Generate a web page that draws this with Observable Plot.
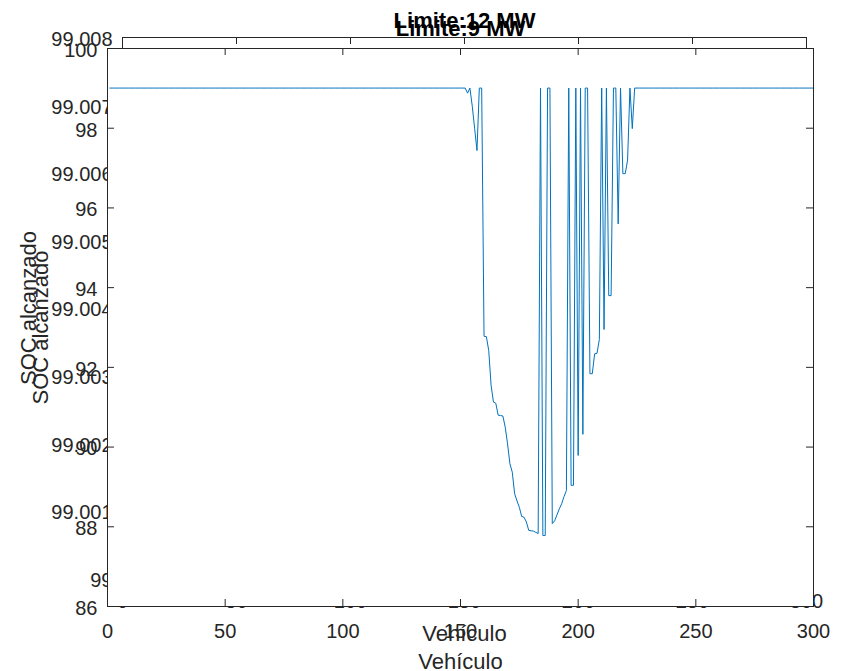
<!DOCTYPE html>
<html>
<head>
<meta charset="utf-8">
<script src="https://cdn.jsdelivr.net/npm/d3@7"></script>
<script src="https://cdn.jsdelivr.net/npm/@observablehq/plot@0.6"></script>
<style>
  html, body { margin: 0; padding: 0; background: #ffffff; }
  #wrap { position: relative; width: 843px; height: 671px; background: #ffffff; }
  #wrap svg { position: absolute; left: 0; top: 0; }
</style>
</head>
<body>
<div id="wrap"></div>
<script>
// ---- data ----
const vehicleCount = 300;
const plateauSOC = 99.0073;           // SOC of the vehicles outside the dip
const dipVehicles = [152,153,154,155,156,157,158,159,160,161,162,163,164,165,166,167,168,169,170,171,172,173,174,175,176,177,178,179,180,181,182,183,184,185,186,187,188,189,190,191,192,193,194,195,196,197,198,199,200,201,202,203,204,205,206,207,208,209,210,211,212,213,214,215,216,217,218,219,220,221,222,223,224];
const dipSOC9 = [99.0073,98.88,99.0073,98.55,98.00,97.44,99.0073,99.0073,92.78,92.77,92.42,91.55,91.13,91.10,90.80,90.79,90.78,90.50,90.08,89.58,89.37,88.83,88.65,88.49,88.26,88.24,88.12,87.91,87.90,87.89,87.86,87.83,99.0073,87.78,87.78,99.0073,99.0073,88.08,88.15,88.30,88.45,88.58,88.76,88.91,99.0073,89.04,89.04,99.0073,89.79,99.0073,90.32,99.0073,99.0073,91.84,91.84,92.34,92.35,92.70,99.0073,92.95,99.0073,93.80,93.80,99.0073,99.0073,95.60,99.0073,96.86,96.86,97.20,99.0073,97.99,99.0073];

const titleBack = "Limite:12 MW";
const titleFront = "Limite:9 MW";
const xLabel = "Vehículo";
const yLabel = "SOC alcanzado";

const xTicks = [0, 50, 100, 150, 200, 250, 300];
const frontYTicks = [86, 88, 90, 92, 94, 96, 98, 100];
const backYTicks = [99, 99.001, 99.002, 99.003, 99.004, 99.005, 99.006, 99.007, 99.008];
const backYTickLabels = ["99", "99.001", "99.002", "99.003", "99.004", "99.005", "99.006", "99.007", "99.008"];

// ---- build series ----
const seriesFront = [];
const seriesBack = [];
for (let v = 1; v <= vehicleCount; v++) {
  const k = dipVehicles.indexOf(v);
  seriesFront.push({v, soc: k >= 0 ? dipSOC9[k] : plateauSOC});
  seriesBack.push({v, soc: plateauSOC});
}

const ink = "#262626";
const lineColor = "#0072BD";
const W = 843, H = 671;
const font = "'Liberation Sans', Arial, Helvetica, sans-serif";
const tickLen = 7;

function axesPlot({m, yTicks, yFmt, data, title, titleDy, frontFill, xPad}) {
  const fw = W - m.left - m.right;
  const fh = H - m.top - m.bottom;
  const marks = [];
  if (frontFill) marks.push(Plot.frame({fill: "white", stroke: null}));
  marks.push(
    Plot.lineY(data, {x: "v", y: "soc", stroke: lineColor, strokeWidth: 1}),
    // inward ticks, all four sides
    Plot.tickX(xTicks, {x: d => d, stroke: ink, insetTop: fh - tickLen}),
    Plot.tickX(xTicks, {x: d => d, stroke: ink, insetBottom: fh - tickLen}),
    Plot.tickY(yTicks, {y: d => d, stroke: ink, insetRight: fw - tickLen}),
    Plot.tickY(yTicks, {y: d => d, stroke: ink, insetLeft: fw - tickLen}),
    Plot.frame({stroke: ink, strokeWidth: 1}),
    Plot.axisX({anchor: "bottom", ticks: xTicks, tickSize: 0, tickPadding: xPad, label: null, fill: ink}),
    Plot.axisY({anchor: "left", ticks: yTicks, tickSize: 0, tickPadding: 10, label: null, fill: ink, tickFormat: yFmt, dy: 2}),
    Plot.text([title], {text: d => d, frameAnchor: "top", lineAnchor: "bottom", dy: titleDy, fontSize: 22, fontWeight: "bold", fill: "#000"}),
    Plot.text([xLabel], {text: d => d, frameAnchor: "bottom", lineAnchor: "bottom", dy: 62, fontSize: 22, fill: ink}),
  );
  return {marks, fw, fh};
}

// back axes (Limite 12 MW)
const mB = {left: 122, right: 37, top: 37, bottom: 93};
const back = axesPlot({m: mB, yTicks: backYTicks,
  yFmt: (d, i) => backYTickLabels[i], data: seriesBack, title: titleBack, titleDy: -10, frontFill: false, xPad: 15});
back.marks.push(Plot.text([yLabel], {text: d => d, frameAnchor: "left", rotate: -90, textAnchor: "middle", lineAnchor: "middle", dx: -94, fontSize: 22, fill: ink}));
const svgBack = Plot.plot({
  width: W, height: H,
  marginLeft: mB.left, marginRight: mB.right, marginTop: mB.top, marginBottom: mB.bottom,
  x: {domain: [0, 300]}, y: {domain: [99, 99.008]},
  style: {fontFamily: font, fontSize: "20px", background: "transparent", color: ink, overflow: "visible"},
  marks: back.marks
});

// front axes (Limite 9 MW)
const mF = {left: 107, right: 30, top: 48, bottom: 65};
const front = axesPlot({m: mF, yTicks: frontYTicks,
  yFmt: d => String(d), data: seriesFront, title: titleFront, titleDy: -13, frontFill: true, xPad: 17});
front.marks.push(Plot.text([yLabel], {text: d => d, frameAnchor: "left", rotate: -90, textAnchor: "middle", lineAnchor: "middle", dx: -67, fontSize: 22, fill: ink}));
const svgFront = Plot.plot({
  width: W, height: H,
  marginLeft: mF.left, marginRight: mF.right, marginTop: mF.top, marginBottom: mF.bottom,
  x: {domain: [0, 300]}, y: {domain: [86, 100]},
  style: {fontFamily: font, fontSize: "20px", background: "transparent", color: ink, overflow: "visible"},
  marks: front.marks
});

const wrap = document.getElementById("wrap");
wrap.appendChild(svgBack);
wrap.appendChild(svgFront);
</script>
</body>
</html>
